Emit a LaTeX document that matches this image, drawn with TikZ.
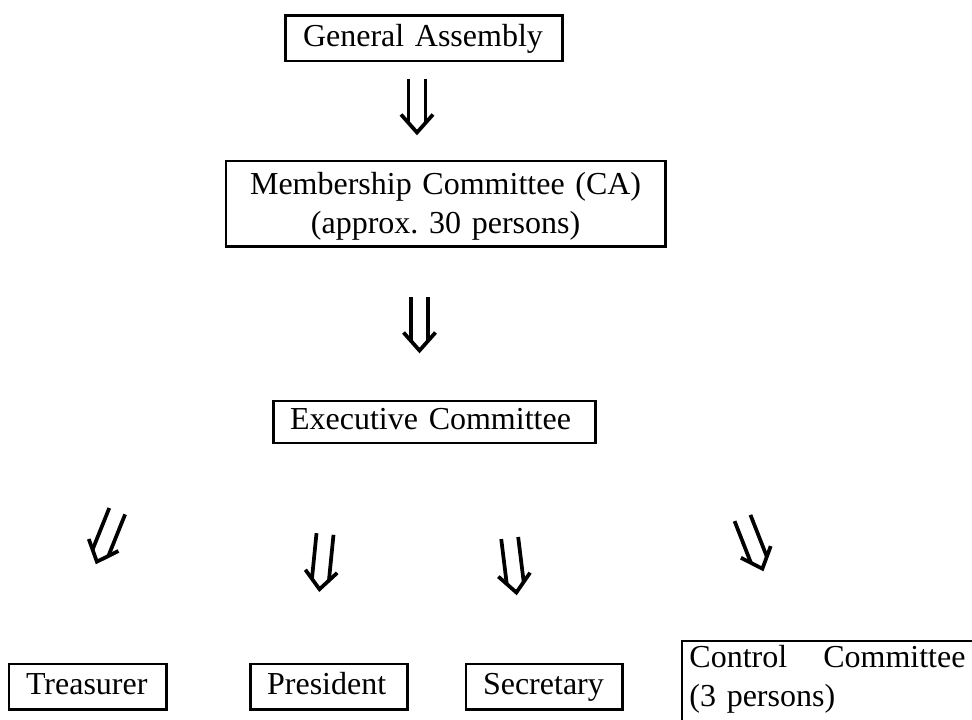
\documentclass[tikz,border=0pt]{standalone}
\usepackage{fontspec}
\setmainfont{Liberation Serif}
\usepackage{tikz}
\usetikzlibrary{calc, positioning}
\frenchspacing

% hollow double arrow from #1 (tail) to #2 (tip)
\newcommand{\dblarrow}[2]{%
  \coordinate (hM) at ($(#2)!3.6pt!(#1)$);
  \coordinate (hQ) at ($(#2)!6.75pt!(#1)$);
  \draw[arrowline] ($(#1)!3.2pt!90:(#2)$) -- ($(hM)!3.2pt!90:(#2)$);
  \draw[arrowline] ($(#1)!3.2pt!-90:(#2)$) -- ($(hM)!3.2pt!-90:(#2)$);
  \draw[arrowline] ($(hQ)!6pt!90:(#2)$) -- (#2) -- ($(hQ)!6pt!-90:(#2)$);
}

\begin{document}
\begin{tikzpicture}[x=0.375pt, y=-0.375pt, on grid, font=\fontsize{12pt}{14.5pt}\selectfont]
    \tikzstyle{box}=[draw, line width=1.1pt, inner xsep=6.4pt, inner ysep=0pt, align=left, minimum height=16.9pt, execute at begin node=\strut]
    \tikzstyle{arrowline}=[line width=1.4pt]

    \useasboundingbox (0,0) rectangle (972,720);
    \clip (0,0) rectangle (972,720);

    \node[box, text width=90.75pt] (GA) at (424,38.5) {General Assembly};
    \node[box, text width=151.9pt, minimum height=31.9pt, align=center, execute at begin node={}, below of=GA, node distance=61.9pt, xshift=8.1pt] (MC) {Membership Committee (CA)\\(approx. 30 persons)};
    \node[box, text width=108pt, minimum height=15.75pt, below of=MC, node distance=81.9pt, xshift=-4.3pt] (EC) {Executive Committee};

    \node[box, text width=46.1pt] (Tr) at (87.5,686.5) {Treasurer};
    \node[box, text width=46.1pt, right of=Tr, node distance=90.4pt] (Pr) {President};
    \node[box, text width=45.75pt, right of=Pr, node distance=80.8pt] (Se) {Secretary};
    \node[anchor=north west, text width=103.5pt, inner xsep=2.6pt, inner ysep=1.5pt, align=left] (CC) at (682,641) {Control\hfill Committee\\(3 persons)};
    \draw[line width=1.1pt] (CC.north west) rectangle ++(330,120);

    \coordinate (GAt) at (417,79);      \coordinate (GAh) at (417,132.5);
    \coordinate (MCt) at (419.5,297);   \coordinate (MCh) at (419.5,350.5);
    \coordinate (Trt) at (117.2,511.2); \coordinate (Trh) at (96.9,561.7);
    \coordinate (Prt) at (325,534);     \coordinate (Prh) at (319.5,589.2);
    \coordinate (Set) at (509.7,538);   \coordinate (Seh) at (516.4,592.5);
    \coordinate (CCt) at (742.5,518);   \coordinate (CCh) at (762.4,568.7);

    \dblarrow{GAt}{GAh}
    \dblarrow{MCt}{MCh}
    \dblarrow{Trt}{Trh}
    \dblarrow{Prt}{Prh}
    \dblarrow{Set}{Seh}
    \dblarrow{CCt}{CCh}
\end{tikzpicture}
\end{document}
